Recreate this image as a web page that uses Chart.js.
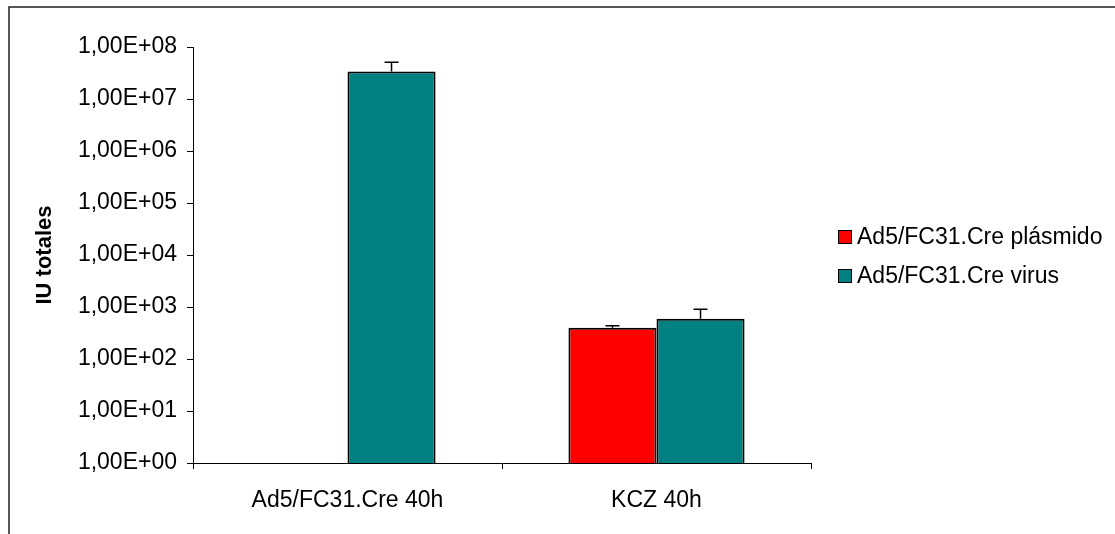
<!DOCTYPE html>
<html>
<head>
<meta charset="utf-8">
<script src="https://cdn.jsdelivr.net/npm/chart.js@4.4.1/dist/chart.umd.min.js"></script>
<style>
html,body{margin:0;padding:0;background:#fff;}
#wrap{width:1115px;height:534px;position:relative;}
</style>
</head>
<body>
<div id="wrap"><canvas id="c" width="1115" height="534"></canvas></div>
<script>
const categories = ["Ad5/FC31.Cre 40h", "KCZ 40h"];
const seriesNames = ["Ad5/FC31.Cre plásmido", "Ad5/FC31.Cre virus"];
const plasmidoValues = [null, 400];
const plasmidoErrors = [null, 36];
const virusValues = [33800000, 596];
const virusErrors = [17000000, 306];
const yTickValues = [1, 10, 100, 1000, 10000, 100000, 1000000, 10000000, 100000000];
const yTickLabels = ["1,00E+00", "1,00E+01", "1,00E+02", "1,00E+03", "1,00E+04", "1,00E+05", "1,00E+06", "1,00E+07", "1,00E+08"];
const yTitle = "IU totales";

const FONT = "'Liberation Sans', Arial, sans-serif";
Chart.defaults.font.family = FONT;
Chart.defaults.color = "#000";

const errorBars = {
  id: 'errorBars',
  afterDatasetsDraw(chart) {
    const ctx = chart.ctx;
    const y = chart.scales.y;
    ctx.save();
    ctx.strokeStyle = '#000';
    ctx.lineWidth = 1.5;
    chart.data.datasets.forEach((ds, i) => {
      const meta = chart.getDatasetMeta(i);
      meta.data.forEach((bar, j) => {
        const v = ds.data[j], e = ds.errors[j];
        if (v == null || e == null) return;
        const yTop = y.getPixelForValue(v + e);
        const yBar = y.getPixelForValue(v);
        ctx.beginPath();
        ctx.moveTo(bar.x, yBar);
        ctx.lineTo(bar.x, yTop);
        ctx.moveTo(bar.x - 7, yTop);
        ctx.lineTo(bar.x + 7, yTop);
        ctx.stroke();
      });
    });
    ctx.restore();
  }
};

const frameAndLegend = {
  id: 'frameAndLegend',
  afterDraw(chart) {
    const ctx = chart.ctx;
    ctx.save();
    ctx.strokeStyle = '#222';
    ctx.lineWidth = 1.5;
    ctx.beginPath();
    ctx.moveTo(9, 540);
    ctx.lineTo(9, 7);
    ctx.lineTo(1120, 7);
    ctx.stroke();
    const rowsY = [237, 276];
    ctx.font = "23px " + FONT;
    ctx.textBaseline = 'middle';
    ctx.textAlign = 'left';
    chart.data.datasets.forEach((ds, i) => {
      const yy = rowsY[i];
      ctx.fillStyle = ds.backgroundColor;
      ctx.fillRect(838.5, yy - 6.5, 13, 13);
      ctx.strokeStyle = '#000';
      ctx.lineWidth = 1;
      ctx.strokeRect(838.5, yy - 6.5, 13, 13);
      ctx.fillStyle = '#000';
      ctx.fillText(ds.label, 857, yy + 1);
    });
    ctx.restore();
  }
};

new Chart(document.getElementById('c'), {
  type: 'bar',
  data: {
    labels: categories,
    datasets: [
      { label: seriesNames[0], data: plasmidoValues, errors: plasmidoErrors, backgroundColor: '#FF0000', borderColor: '#000', borderWidth: 2, categoryPercentage: 0.57, barPercentage: 1 },
      { label: seriesNames[1], data: virusValues, errors: virusErrors, backgroundColor: '#008080', borderColor: '#000', borderWidth: 2, categoryPercentage: 0.57, barPercentage: 1 }
    ]
  },
  options: {
    responsive: false,
    animation: false,
    devicePixelRatio: 1,
    layout: { padding: { top: 47, left: 0, right: 304, bottom: 0 } },
    plugins: { legend: { display: false }, tooltip: { enabled: false } },
    scales: {
      x: {
        grid: { offset: true, drawOnChartArea: false, color: '#000', tickLength: 6, lineWidth: 1 },
        border: { color: '#000', width: 1 },
        ticks: { font: { size: 23 }, color: '#000', padding: 18, maxRotation: 0 },
        afterFit(scale) { scale.height = 71; }
      },
      y: {
        type: 'logarithmic',
        min: 1,
        max: 100000000,
        grid: { drawOnChartArea: false, color: '#000', tickLength: 6, lineWidth: 1 },
        border: { color: '#000', width: 1 },
        ticks: {
          font: { size: 23 }, color: '#000', padding: 10,
          callback(value) {
            const idx = yTickValues.indexOf(value);
            return idx >= 0 ? yTickLabels[idx] : '';
          }
        },
        afterBuildTicks(scale) { scale.ticks = yTickValues.map(v => ({ value: v })); },
        title: { display: true, text: yTitle, font: { size: 22, weight: 'bold' }, color: '#000', padding: { top: 32, bottom: 0 } },
        afterFit(scale) { scale.width = 193; }
      }
    }
  },
  plugins: [errorBars, frameAndLegend]
});
</script>
</body>
</html>
